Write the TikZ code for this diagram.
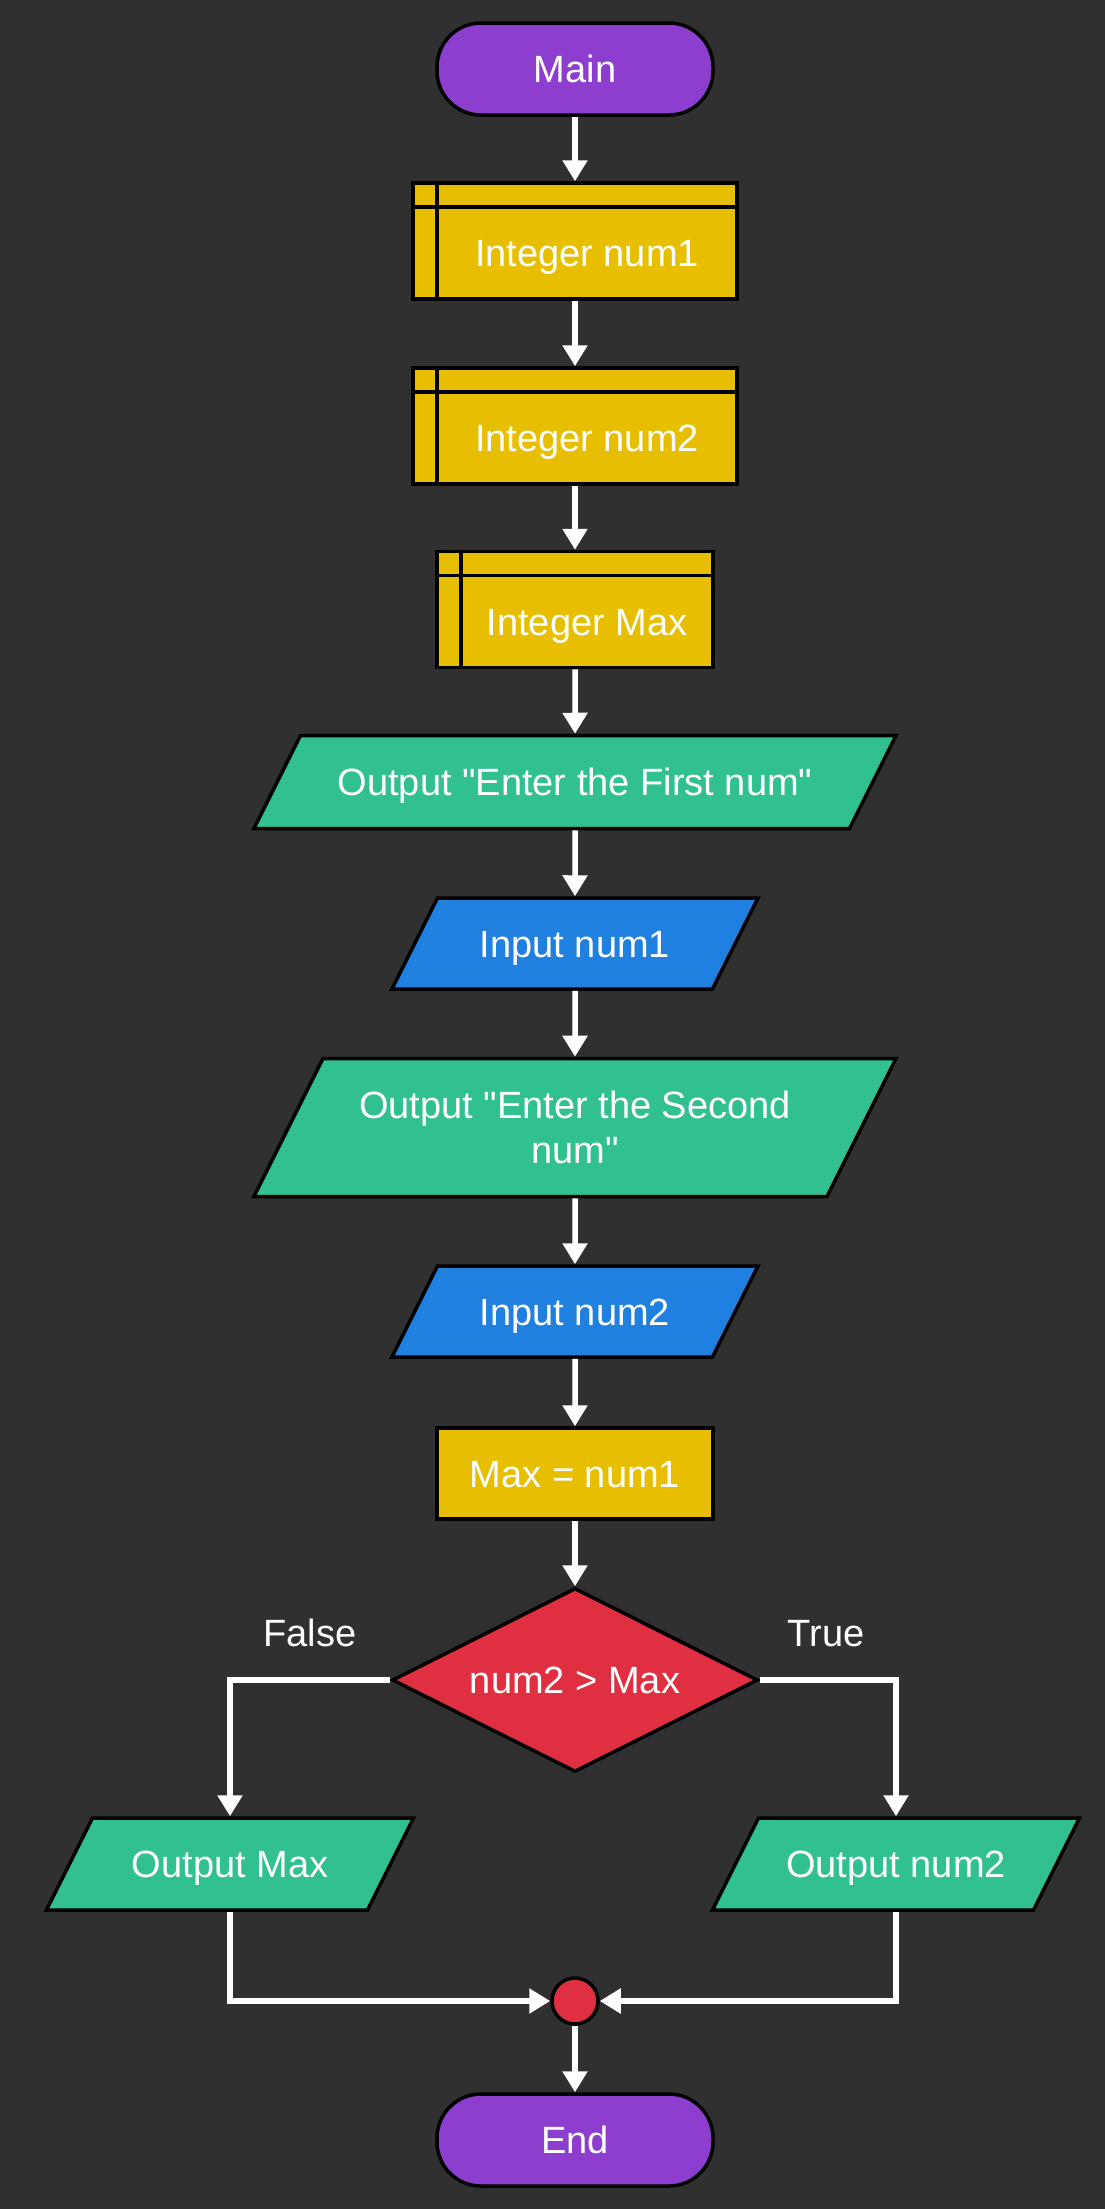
\documentclass[tikz,border=0pt]{standalone}
\usepackage{fontspec}
\setmainfont{Liberation Sans}[Ligatures=TeXOff]
\usepackage{tikz}
\usetikzlibrary{shapes,arrows.meta,positioning,calc}

\definecolor{bgdark}{HTML}{303030}
\definecolor{termpurple}{HTML}{8E3ECE}
\definecolor{declyellow}{HTML}{E8BE00}
\definecolor{outgreen}{HTML}{31C08F}
\definecolor{inblue}{HTML}{1F80E0}
\definecolor{decred}{HTML}{E02F40}

\begin{document}
\begin{tikzpicture}[x=1pt, y=-1pt,
    every node/.style={font=\fontsize{38}{45}\selectfont, text=white, inner sep=0pt, text height=27pt, text depth=0pt},
    shapebox/.style={draw=black, line width=3.5pt},
    term/.style={shapebox, fill=termpurple, rounded corners=44pt, minimum width=276pt, minimum height=92pt},
    decl/.style={shapebox, fill=declyellow, minimum height=116pt, text height=51pt,
        execute at begin node={\hspace*{24pt}},
        path picture={
            \draw[line width=3.5pt] ([yshift=-24pt]path picture bounding box.north west) -- ([yshift=-24pt]path picture bounding box.north east);
            \draw[line width=3.5pt] ([xshift=24pt]path picture bounding box.north west) -- ([xshift=24pt]path picture bounding box.south west);
        }},
    proc/.style={shapebox, fill=declyellow, minimum width=276pt, minimum height=91pt},
    % height from inner ysep so the slant keeps its angle
    io/.style={shapebox, trapezium, trapezium left angle=63.43, trapezium right angle=116.57,
        trapezium stretches body=true, inner ysep=33pt},
    outp/.style={io, fill=outgreen},
    inp/.style={io, fill=inblue, minimum width=366pt, inner ysep=32pt},
    cond/.style={shapebox, diamond, aspect=2, fill=decred, minimum width=366pt, minimum height=184pt},
    junction/.style={shapebox, circle, fill=decred, minimum size=46pt, text height=0pt},
    flow/.style={draw=white, line width=5.5pt, -{Triangle[width=24pt,length=21pt]}}]

    \fill[bgdark] (0,0) rectangle (1105,2209);

    \node[term] (main) at (575,69) {Main};
    \node[decl, minimum width=324pt] (num1) at (575,241) {Integer num1};
    \node[decl, minimum width=324pt] (num2) at (575,426) {Integer num2};
    \node[decl, minimum width=276pt] (maxv) at (575,609.5) {Integer Max};
    \node[outp, minimum width=642pt] (askfirst) at (575,782) {Output "Enter the First num"};
    \node[inp] (readfirst) at (575,943.5) {Input num1};
    \node[outp, minimum width=642pt, align=center, text height=72pt] (asksecond) at (575,1127.5) {Output "Enter the Second\\num"};
    \node[inp] (readsecond) at (575,1311.5) {Input num2};
    \node[proc] (initmax) at (575,1473.5) {Max = num1};
    \node[cond] (cmp) at (575,1680) {num2 > Max};
    \node[outp, minimum width=367pt, inner ysep=32.5pt] (showmax) at (230,1864) {Output Max};
    \node[outp, minimum width=367pt, inner ysep=32.5pt] (shownum2) at (896,1864) {Output num2};
    \node[junction] (join) at (575,2001) {};
    \node[term] (done) at (575,2140) {End};

    \node (flabel) at (310,1633) {False};
    \node (tlabel) at (826,1633) {True};

    \draw[flow] (main) -- (num1);
    \draw[flow] (num1) -- (num2);
    \draw[flow] (num2) -- (maxv);
    \draw[flow] (maxv) -- (askfirst);
    \draw[flow] (askfirst) -- (readfirst);
    \draw[flow] (readfirst) -- (asksecond);
    \draw[flow] (asksecond) -- (readsecond);
    \draw[flow] (readsecond) -- (initmax);
    \draw[flow] (initmax) -- (cmp);
    \draw[flow] (cmp.west) -| (showmax);
    \draw[flow] (cmp.east) -| (shownum2);
    \draw[flow] (showmax) |- (join);
    \draw[flow] (shownum2) |- (join);
    \draw[flow] (join) -- (done);
\end{tikzpicture}
\end{document}
